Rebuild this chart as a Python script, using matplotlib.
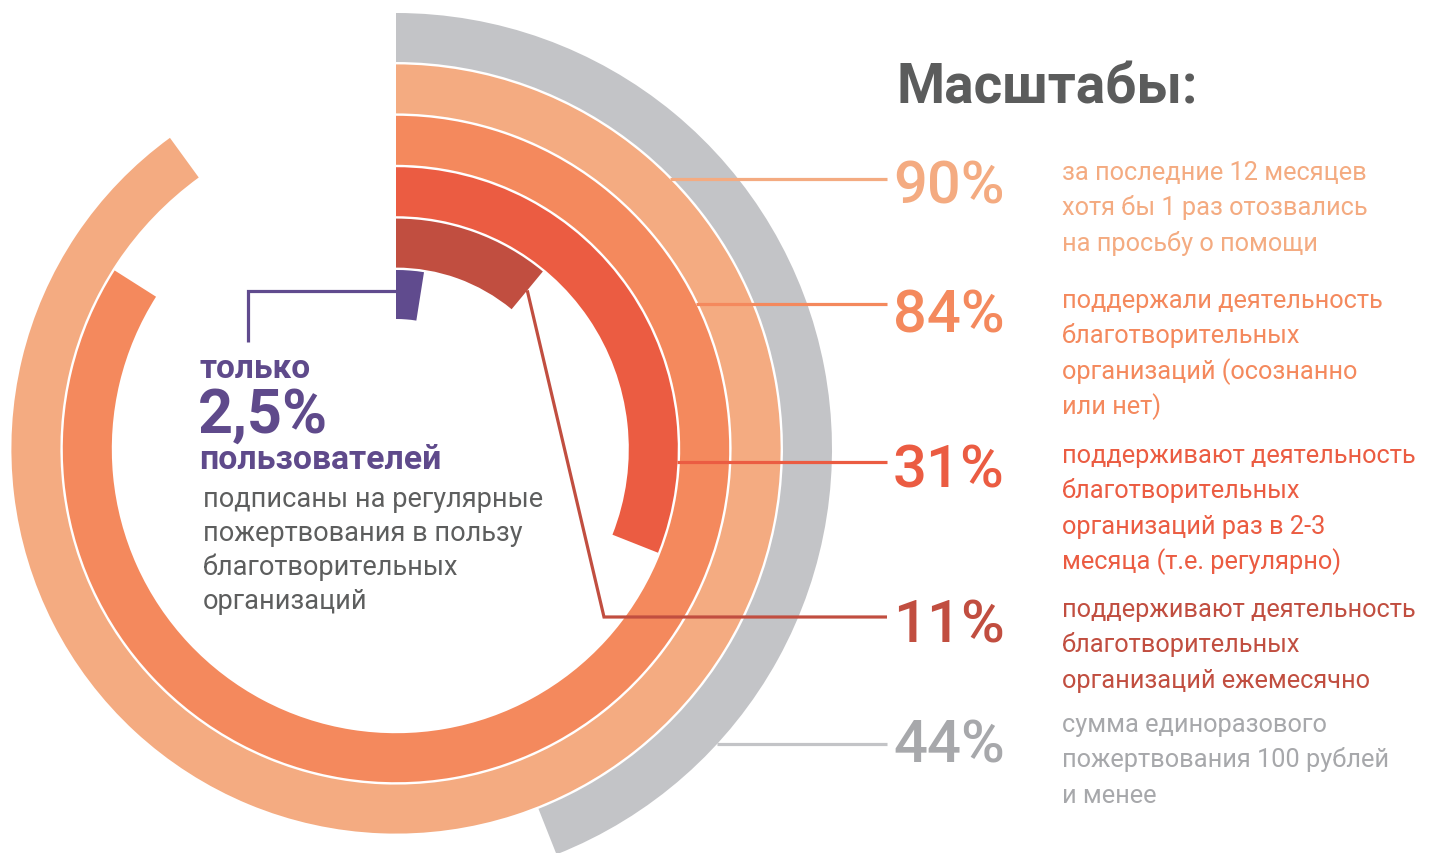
import matplotlib
matplotlib.use('Agg')
import matplotlib.pyplot as plt
from matplotlib.patches import Wedge
import numpy as np

plt.rcParams['font.family'] = ['Roboto', 'DejaVu Sans']

# данные: кольца снаружи внутрь
values = [44, 90, 84, 31, 11, 2.5]
colors = ['#c3c4c7', '#f4ab81', '#f4895d', '#eb5c42', '#c14e40', '#604b8e']
text_colors = ['#a7a8ab', '#f4ab81', '#f4895d', '#eb5c42', '#c14e40', '#5f4a8b']

descriptions = [
    ['сумма единоразового', 'пожертвования 100 рублей', 'и менее'],
    ['за последние 12 месяцев', 'хотя бы 1 раз отозвались', 'на просьбу о помощи'],
    ['поддержали деятельность', 'благотворительных', 'организаций (осознанно', 'или нет)'],
    ['поддерживают деятельность', 'благотворительных', 'организаций раз в 2-3', 'месяца (т.е. регулярно)'],
    ['поддерживают деятельность', 'благотворительных', 'организаций ежемесячно'],
]
small_lines = ['подписаны на регулярные', 'пожертвования в пользу',
               'благотворительных', 'организаций']
title = 'Масштабы:'

W, H = 1432, 854
fig = plt.figure(figsize=(W / 100, H / 100), dpi=100)
ax = fig.add_axes([0, 0, 1, 1])
ax.set_xlim(0, W)
ax.set_ylim(H, 0)
ax.axis('off')

cx, cy = 396, 450
r0 = 436
step = 51.4
width = 49

def pct_text(v):
    s = ('%g' % v).replace('.', ',')
    return s + '%'

# кольца
for i, (v, c) in enumerate(zip(values, colors)):
    r = r0 - i * step
    ax.add_patch(Wedge((cx, cy), r, 270, 270 + 360 * v / 100, width=width,
                       facecolor=c, edgecolor='none', zorder=2))

# подписи справа (порядок сверху вниз: 90, 84, 31, 11, 44)
order = [1, 2, 3, 4, 0]
line_y = [180, 305, 463, 618, 745]
pct_base = [203, 333, 488, 643, 763]
desc_base = [180, 308, 463, 617, 732]
x_end = 887
for k, i in enumerate(order):
    c = colors[i]
    r = r0 - i * step
    y = line_y[k]
    if i == 4:
        # ломаная линия от конца дуги
        a = np.deg2rad(270 + 360 * values[i] / 100)
        rm = r - width / 2
        x1, y1 = cx + rm * np.cos(a), cy + rm * np.sin(a)
        ax.plot([x1, 604, x_end], [y1, y, y], color=c, lw=2.3, zorder=5,
                solid_capstyle='butt', solid_joinstyle='miter')
    else:
        xs = cx + np.sqrt(r ** 2 - (y - cy) ** 2)
        ax.plot([xs, x_end], [y, y], color=c, lw=2.3, zorder=5,
                solid_capstyle='butt')
    ax.text(893, pct_base[k], pct_text(values[i]), color=text_colors[i],
            fontsize=43, fontweight='medium', va='baseline', ha='left')
    for j, line in enumerate(descriptions[i]):
        ax.text(1062, desc_base[k] + j * 35.3, line, color=text_colors[i],
                fontsize=18.3, va='baseline', ha='left')

ax.text(896, 103, title, color='#5b5c5c', fontsize=39.5, fontweight='bold',
        va='baseline', ha='left')

# фиолетовая выноска
ax.plot([cx, 248, 248], [292, 292, 343], color=colors[5], lw=2.3, zorder=5,
        solid_joinstyle='miter', solid_capstyle='butt')
ax.text(199, 378, 'только', color=text_colors[5], fontsize=24,
        fontweight='bold', va='baseline', ha='left')
ax.text(198, 433, pct_text(values[5]), color=text_colors[5], fontsize=44,
        fontweight='bold', va='baseline', ha='left')
ax.text(199, 469, 'пользователей', color=text_colors[5], fontsize=24.3,
        fontweight='bold', va='baseline', ha='left')
for j, line in enumerate(small_lines):
    ax.text(203, 507 + j * 34, line, color='#5d5e5e', fontsize=19.5,
            va='baseline', ha='left')

fig.savefig('out.png', dpi=100, facecolor='white')
